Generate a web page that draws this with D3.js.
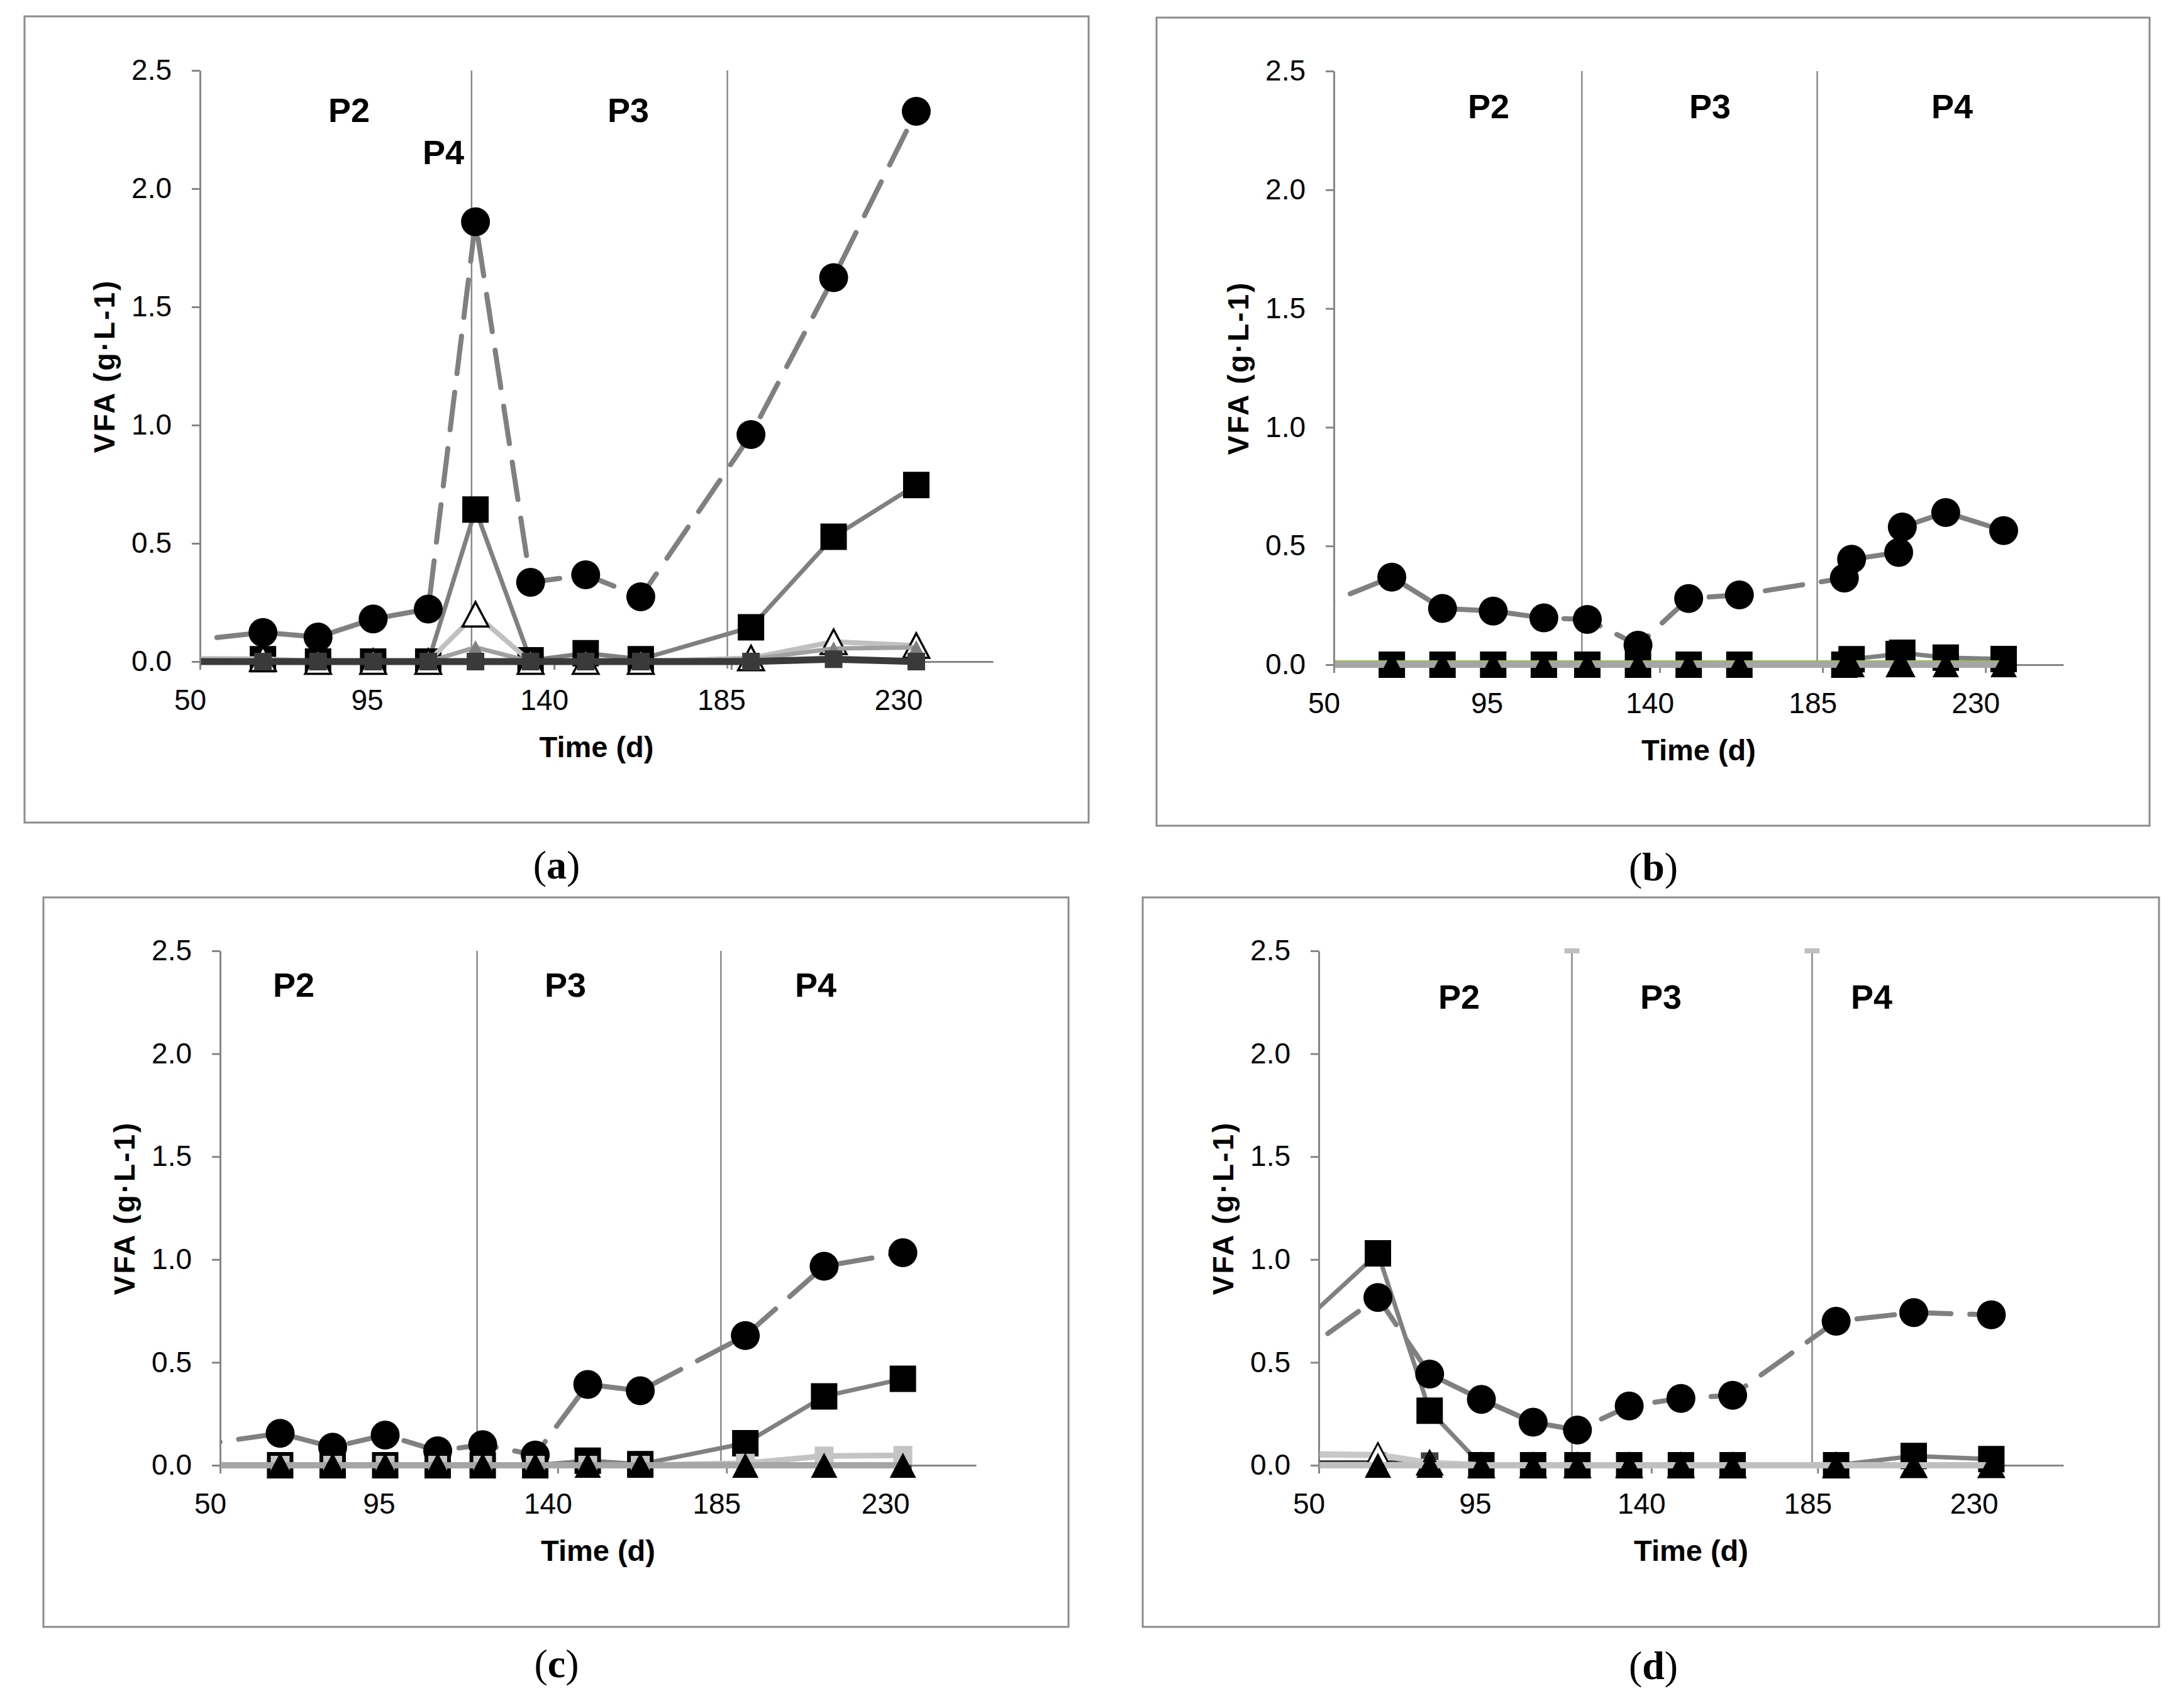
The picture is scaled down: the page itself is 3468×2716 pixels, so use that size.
<!DOCTYPE html>
<html><head><meta charset="utf-8">
<script src="https://cdn.jsdelivr.net/npm/d3@7/dist/d3.min.js"></script>
<style>html,body{margin:0;padding:0;background:#fff}svg{display:block}</style>
</head><body><svg id="chart"></svg>
<script>
// ---------------- DATA ----------------
// days; the first entry is an earlier sample left of the visible axis (only its line segment shows)
const daysACD = [40, 66, 80, 94, 108, 120, 134, 148, 162, 190, 211, 232];
const daysB   = [40, 66, 80, 94, 108, 120, 134, 148, 162, 191, 193, 206, 207, 219, 235];
const xTicks = [50, 95, 140, 185, 230];
const yTicks = [0, 0.5, 1.0, 1.5, 2.0, 2.5];
const xDomain = [50, 251.5];
const yDomain = [0, 2.5];
const phaseBoundsA = [119, 184];
const phaseBoundsBCD = [118.5, 183.5];
const phaseNamesA = ["P2", "P4", "P3"];
const phaseNamesBCD = ["P2", "P3", "P4"];
const captionLetters = ["a", "b", "c", "d"];
const yTitle = "VFA (g·L-1)";
const xTitle = "Time (d)";

// panel (a)
const aSquares = [0, 0.01, 0, 0, 0, 0.643, 0.005, 0.035, 0.01, 0.145, 0.528, 0.747];
const aOpenTri = [0.013, 0.012, 0, 0, 0, 0.2, 0, 0, 0, 0.015, 0.084, 0.068];
const aGrayTri = [0, 0, 0, 0, 0, 0.06, 0, 0, 0, 0.01, 0.055, 0.06];
const aCircles = [0.076, 0.123, 0.104, 0.18, 0.222, 1.86, 0.335, 0.367, 0.274, 0.96, 1.624, 2.327];
const aDark    = [0, 0, 0, 0, 0, 0, 0, 0, 0, 0, 0.01, 0];
// panel (b)
const bDark      = [0, 0, 0, 0, 0, 0, 0, 0, 0, 0, 0, 0, 0, 0, 0];
const bSquares   = [0, 0, 0, 0, 0, 0, 0, 0, 0, 0, 0.023, 0.045, 0.05, 0.03, 0.024];
const bCircles   = [0.21, 0.369, 0.237, 0.226, 0.197, 0.191, 0.082, 0.279, 0.294, 0.365, 0.444, 0.473, 0.58, 0.641, 0.565];
const bTrace     = [0.016, 0.016, 0.016, 0.016, 0.016, 0.016, 0.016, 0.016, 0.016, 0.016, 0.016, 0.016, 0.016, 0.016, 0.016];
const bTriangles = [0, 0, 0, 0, 0, 0, 0, 0, 0, 0, 0, 0, 0, 0, 0];
// panel (c)
const cDark      = [0, 0, 0, 0, 0, 0, 0, 0, 0, 0, 0, 0];
const cSquares   = [0, 0, 0, 0, 0, 0, 0, 0.022, 0.005, 0.107, 0.335, 0.42];
const cCircles   = [0.088, 0.155, 0.088, 0.147, 0.07, 0.1, 0.05, 0.393, 0.362, 0.63, 0.967, 1.033];
const cLight     = [0, 0, 0, 0, 0, 0, 0, 0, 0, 0.01, 0.045, 0.048];
const cTriangles = [0, 0, 0, 0, 0, 0, 0, 0, 0, 0, 0, 0];
// panel (d)
const dDark      = [0.02, 0.02, 0.02, 0, 0, 0, 0, 0, 0, 0, 0, 0];
const dSquares   = [0.6, 1.03, 0.265, 0, 0, 0, 0, 0, 0, 0, 0.045, 0.03];
const dCircles   = [0.48, 0.815, 0.443, 0.32, 0.209, 0.171, 0.288, 0.325, 0.34, 0.7, 0.742, 0.731];
const dOpenTri   = [0.055, 0.05, 0.012, 0, 0, 0, 0, 0, 0, 0, 0, 0];
const dTrace     = [-0.01, -0.01, -0.01, -0.01, -0.01, -0.01, -0.01, -0.01, -0.01, -0.01, -0.01, -0.01];
const dTriangles = [0, 0, 0, 0, 0, 0, 0, 0, 0, 0, 0, 0];

// ---------------- STYLES ----------------
const STY = {
  circle:  {marker: "circle",   size: 46, fill: "#000", line: "#808080", lw: 8, dash: "60 30"},
  square:  {marker: "square",   size: 42, fill: "#000", line: "#808080", lw: 7},
  tri:     {marker: "triangle", size: 42, fill: "#000", line: "#a6a6a6", lw: 10},
  triD:    {marker: "triangle", size: 42, fill: "#000", line: "#c0c0c0", lw: 10},
  openTri: {marker: "triangle", size: 41, fill: "#fff", stroke: "#000", sw: 3.5, line: "#c0c0c0", lw: 8},
  openTriD:{marker: "triangle", size: 40, fill: "#fff", stroke: "#000", sw: 3, line: "#c8c8c8", lw: 10},
  grayTri: {marker: "triangle", size: 24, fill: "#7f7f7f", line: "#a0a0a0", lw: 7},
  darkA:   {marker: "square",   size: 28, fill: "#3a3a3a", line: "#3a3a3a", lw: 11},
  dark:    {marker: "square",   size: 28, fill: "#404040", line: "#404040", lw: 3},
  darkD:   {marker: "square",   size: 28, fill: "#404040", line: "#222222", lw: 2.5},
  light:   {marker: "square",   size: 30, fill: "#c4c4c4", line: "#c4c4c4", lw: 9},
  trace:   {marker: null, line: "#9bbb59", lw: 2}
};

const panels = [
  {frame: [39, 26, 1692, 1282], plot: [318, 1579, 112, 1052], days: daysACD,
   phases: phaseBoundsA, phaseBottom: -0.03, names: phaseNamesA,
   labelPos: [[237, 63], [387, 130], [681, 63]], caption: [885, 1375], caps: false,
   series: [[aSquares, STY.square], [aOpenTri, STY.openTri], [aGrayTri, STY.grayTri], [aCircles, STY.circle], [aDark, STY.darkA]]},
  {frame: [1839, 28, 1579, 1285], plot: [2121, 3281, 113, 1057], days: daysB,
   phases: phaseBoundsBCD, phaseBottom: 0, names: phaseNamesBCD,
   labelPos: [[246, 56], [598, 56], [983, 56]], caption: [2629, 1378], caps: false,
   series: [[bDark, STY.dark], [bSquares, STY.square], [bCircles, STY.circle], [bTrace, STY.trace], [bTriangles, STY.tri]]},
  {frame: [69, 1427, 1630, 1160], plot: [350, 1552, 1512, 2330], days: daysACD,
   phases: phaseBoundsBCD, phaseBottom: 0, names: phaseNamesBCD,
   labelPos: [[117, 54], [549, 54], [947, 54]], caption: [885, 2645], caps: false,
   series: [[cDark, STY.dark], [cSquares, STY.square], [cCircles, STY.circle], [cLight, STY.light], [cTriangles, STY.tri]]},
  {frame: [1817, 1427, 1616, 1160], plot: [2097, 3281, 1512, 2330], days: daysACD,
   phases: phaseBoundsBCD, phaseBottom: 0, names: phaseNamesBCD,
   labelPos: [[223, 73], [544, 73], [879, 73]], caption: [2629, 2648], caps: true,
   series: [[dDark, STY.darkD], [dSquares, STY.square], [dCircles, STY.circle], [dOpenTri, STY.openTriD], [dTrace, STY.trace], [dTriangles, STY.triD]]}
];

// ---------------- DRAW ----------------
const W = 3468, H = 2716;
const svg = d3.select("#chart").attr("width", W).attr("height", H).attr("viewBox", `0 0 ${W} ${H}`);
svg.append("rect").attr("width", W).attr("height", H).attr("fill", "#fff");
const SANS = "'Liberation Sans', Arial, sans-serif";
const AXIS = "#868686";

function markerPath(type, cx, cy, s) {
  const h = s / 2;
  if (type === "square") return `M${cx - h},${cy - h}h${s}v${s}h${-s}Z`;
  if (type === "triangle") { const th = s * 0.95 / 2; return `M${cx},${cy - th}L${cx + h},${cy + th}L${cx - h},${cy + th}Z`; }
  return `M${cx - h},${cy}a${h},${h} 0 1,0 ${s},0a${h},${h} 0 1,0 ${-s},0Z`;
}

panels.forEach((p, pi) => {
  const [fx, fy, fw, fh] = p.frame;
  const [x0, x1, y0, y1] = p.plot;
  const x = d3.scaleLinear().domain(xDomain).range([x0, x1]);
  const y = d3.scaleLinear().domain(yDomain).range([y1, y0]);
  const g = svg.append("g");

  g.append("rect").attr("x", fx).attr("y", fy).attr("width", fw).attr("height", fh)
    .attr("fill", "#fff").attr("stroke", "#8c8c8c").attr("stroke-width", 3);

  // phase boundary lines
  p.phases.forEach(d => {
    g.append("line").attr("x1", x(d)).attr("x2", x(d)).attr("y1", y(2.5)).attr("y2", y(p.phaseBottom))
      .attr("stroke", "#8a8a8a").attr("stroke-width", 2.5);
    if (p.caps) {
      g.append("line").attr("x1", x(d) - 12).attr("x2", x(d) + 12).attr("y1", y(2.5)).attr("y2", y(2.5))
        .attr("stroke", "#c0c0c0").attr("stroke-width", 8);
    }
  });

  // axes
  const ya = d3.axisLeft(y).tickValues(yTicks).tickFormat(d3.format(".1f")).tickSize(13).tickSizeOuter(0).tickPadding(32);
  const yg = g.append("g").attr("transform", `translate(${x0},0)`).call(ya);
  const xa = d3.axisBottom(x).tickValues(xTicks).tickFormat(d3.format("d")).tickSize(13).tickSizeOuter(0).tickPadding(31);
  const xg = g.append("g").attr("transform", `translate(0,${y(0)})`).call(xa);
  [yg, xg].forEach(ax => {
    ax.select(".domain").attr("stroke", AXIS).attr("stroke-width", 3);
    ax.selectAll(".tick line").attr("stroke", AXIS).attr("stroke-width", 3);
    ax.selectAll(".tick text").attr("font-family", SANS).attr("font-size", 46).attr("fill", "#000");
  });
  xg.selectAll(".tick text").attr("dx", -16);

  // clip for line segments
  const cid = "clip" + pi;
  svg.append("clipPath").attr("id", cid).append("rect")
    .attr("x", x0 + 1.5).attr("y", fy).attr("width", x1 - x0 + 80).attr("height", fh);

  // series
  p.series.forEach(([vals, st]) => {
    const pts = p.days.map((d, i) => [d, vals[i]]);
    const line = d3.line().x(d => x(d[0])).y(d => y(d[1]));
    g.append("path").attr("d", line(pts)).attr("clip-path", `url(#${cid})`)
      .attr("fill", "none").attr("stroke", st.line).attr("stroke-width", st.lw)
      .attr("stroke-linejoin", "round").attr("stroke-linecap", st.dash ? "round" : "butt")
      .attr("stroke-dasharray", st.dash || null);
    if (st.marker) {
      g.selectAll(null).data(pts.filter(d => d[0] >= xDomain[0])).enter().append("path")
        .attr("d", d => markerPath(st.marker, x(d[0]), y(d[1]), st.size))
        .attr("fill", st.fill).attr("stroke", st.stroke || "none").attr("stroke-width", st.sw || 0)
        .attr("stroke-linejoin", "miter");
    }
  });

  // phase labels
  p.names.forEach((n, i) => {
    g.append("text").attr("x", x0 + p.labelPos[i][0]).attr("y", y0 + p.labelPos[i][1])
      .attr("text-anchor", "middle").attr("dominant-baseline", "central")
      .attr("font-family", SANS).attr("font-weight", "bold").attr("font-size", 54).text(n);
  });

  // axis titles
  g.append("text").attr("transform", `translate(${x0 - 152},${(y0 + y1) / 2}) rotate(-90)`)
    .attr("text-anchor", "middle").attr("dominant-baseline", "central")
    .attr("font-family", SANS).attr("font-weight", "bold").attr("font-size", 46)
    .attr("letter-spacing", 3).text(yTitle);
  g.append("text").attr("x", (x0 + x1) / 2).attr("y", y(0) + 135)
    .attr("text-anchor", "middle").attr("dominant-baseline", "central")
    .attr("font-family", SANS).attr("font-weight", "bold").attr("font-size", 47).text(xTitle);

  // caption
  const cap = svg.append("text").attr("x", p.caption[0]).attr("y", p.caption[1])
    .attr("text-anchor", "middle").attr("dominant-baseline", "central")
    .attr("font-family", "'Liberation Serif', 'Times New Roman', serif").attr("font-size", 64);
  cap.append("tspan").text("(");
  cap.append("tspan").attr("font-weight", "bold").text(captionLetters[pi]);
  cap.append("tspan").text(")");
});
</script>
</body></html>
